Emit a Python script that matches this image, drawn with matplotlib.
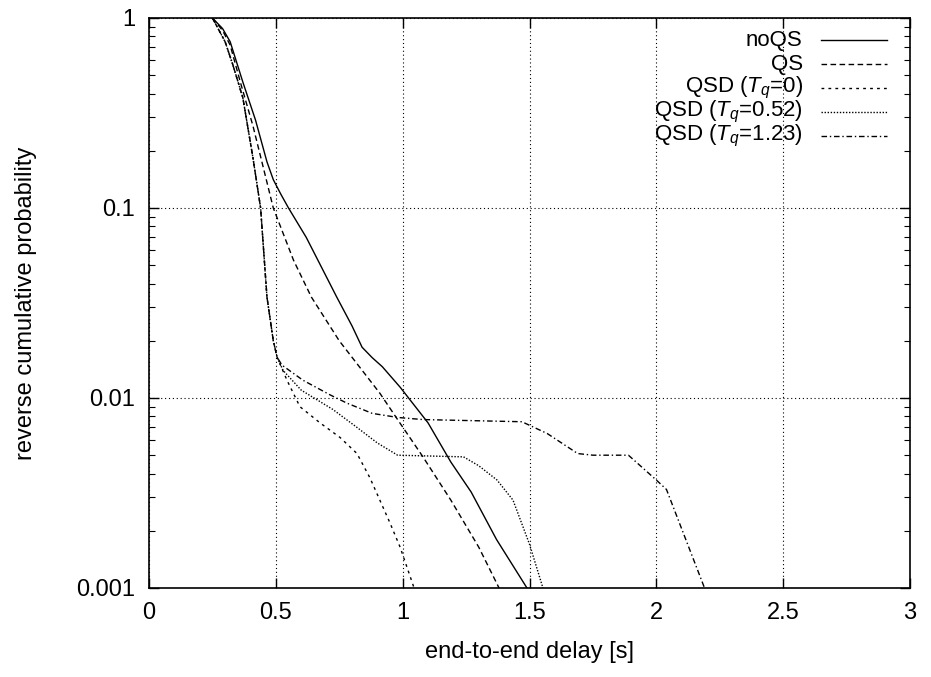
import matplotlib
matplotlib.use("Agg")
import matplotlib.pyplot as plt
from matplotlib.lines import Line2D
from matplotlib.ticker import LogLocator, FixedLocator, NullFormatter

plt.rcParams['font.family'] = ['Liberation Sans', 'DejaVu Sans']
plt.rcParams['mathtext.fontset'] = 'custom'
plt.rcParams['mathtext.rm'] = 'Liberation Sans'
plt.rcParams['mathtext.it'] = 'Liberation Sans:italic'

# curves (delay [s], reverse cumulative probability)
noqs_x = [0.25, 0.29, 0.32, 0.37, 0.42, 0.465, 0.49, 0.52, 0.55, 0.62, 0.74, 0.80, 0.84, 0.88, 0.92, 0.99, 1.10, 1.19, 1.27, 1.37, 1.49]
noqs_y = [1.0, 0.88, 0.75, 0.46, 0.29, 0.175, 0.141, 0.118, 0.10, 0.070, 0.034, 0.024, 0.0185, 0.0163, 0.0146, 0.0114, 0.0074, 0.0046, 0.0032, 0.0018, 0.001]

qs_x = [0.25, 0.29, 0.32, 0.36, 0.41, 0.445, 0.49, 0.57, 0.64, 0.75, 0.91, 0.98, 1.08, 1.19, 1.30, 1.38]
qs_y = [1.0, 0.86, 0.72, 0.46, 0.27, 0.175, 0.10, 0.053, 0.034, 0.020, 0.0106, 0.0077, 0.0049, 0.0029, 0.00164, 0.001]

qsd0_x = [0.25, 0.30, 0.33, 0.37, 0.41, 0.44, 0.465, 0.49, 0.505, 0.544, 0.595, 0.674, 0.753, 0.82, 0.871, 0.91, 0.95, 0.99, 1.045]
qsd0_y = [1.0, 0.75, 0.57, 0.38, 0.183, 0.10, 0.034, 0.020, 0.0164, 0.0124, 0.009, 0.0074, 0.0062, 0.0051, 0.0038, 0.0029, 0.0022, 0.00164, 0.001]

qsd052_x = [0.25, 0.30, 0.33, 0.37, 0.41, 0.44, 0.465, 0.49, 0.505, 0.528, 0.60, 0.725, 0.82, 0.90, 0.98, 1.24, 1.30, 1.372, 1.435, 1.50, 1.553]
qsd052_y = [1.0, 0.75, 0.57, 0.38, 0.183, 0.10, 0.034, 0.020, 0.0164, 0.014, 0.011, 0.0087, 0.0070, 0.0058, 0.0050, 0.0049, 0.0044, 0.0037, 0.0029, 0.0017, 0.001]

qsd123_x = [0.25, 0.30, 0.33, 0.37, 0.41, 0.44, 0.465, 0.49, 0.505, 0.524, 0.607, 0.713, 0.78, 0.88, 0.98, 1.08, 1.47, 1.57, 1.69, 1.75, 1.89, 2.0, 2.04, 2.19]
qsd123_y = [1.0, 0.75, 0.57, 0.38, 0.183, 0.10, 0.034, 0.020, 0.0164, 0.0149, 0.0124, 0.0104, 0.0094, 0.0083, 0.0079, 0.0077, 0.0075, 0.0065, 0.0051, 0.0050, 0.0050, 0.0037, 0.0033, 0.001]

labels = ['noQS', 'QS', r'QSD ($T_q$=0)', r'QSD ($T_q$=0.52)', r'QSD ($T_q$=1.23)']
styles = ['-', (0, (4, 2.5)), (0, (2, 3)), (0, (1, 1.2)), (0, (4, 2, 1, 2))]
x_ticks = [0, 0.5, 1, 1.5, 2, 2.5, 3]
x_tick_labels = ['0', '0.5', '1', '1.5', '2', '2.5', '3']
y_ticks = [0.001, 0.01, 0.1, 1]
y_tick_labels = ['0.001', '0.01', '0.1', '1']

fig = plt.figure(figsize=(9.31, 6.77), dpi=100)
ax = fig.add_axes([149 / 931, 1 - 588 / 677, (910 - 149) / 931, (588 - 18) / 677])

lw = 1.0
series = [(noqs_x, noqs_y), (qs_x, qs_y), (qsd0_x, qsd0_y), (qsd052_x, qsd052_y), (qsd123_x, qsd123_y)]
for (xs, ys), ls in zip(series, styles):
    ax.plot(xs, ys, color='black', lw=lw, linestyle=ls)

ax.set_yscale('log')
ax.set_xlim(0, 3)
ax.set_ylim(0.001, 1)

ax.xaxis.set_major_locator(FixedLocator(x_ticks))
ax.set_xticklabels(x_tick_labels)
ax.yaxis.set_major_locator(FixedLocator(y_ticks))
ax.set_yticklabels(y_tick_labels)
ax.yaxis.set_minor_locator(LogLocator(base=10, subs=range(2, 10)))
ax.yaxis.set_minor_formatter(NullFormatter())

ax.tick_params(which='both', direction='in', top=True, right=True, labelsize=17, pad=10)
ax.tick_params(which='major', length=7, width=1)
ax.tick_params(which='minor', length=4, width=0.8)

ax.grid(True, which='major', color='black', linestyle=(0, (1, 2.5)), linewidth=0.8)
for s in ax.spines.values():
    s.set_linewidth(1.2)

ax.set_xlabel('end-to-end delay [s]', fontsize=17, labelpad=12)
ax.set_ylabel('reverse cumulative probability', fontsize=17, labelpad=28)

# gnuplot-style key: right aligned text, sample line on its right
key_top = 0.961
key_step = 0.0421
for i, (lab, ls) in enumerate(zip(labels, styles)):
    yk = key_top - i * key_step
    ax.text(0.859, yk, lab, transform=ax.transAxes, ha='right', va='center', fontsize=16)
    ax.add_line(Line2D([0.883, 0.970], [yk, yk], transform=ax.transAxes,
                       color='black', lw=lw, linestyle=ls))

fig.savefig('out.png', dpi=100)
